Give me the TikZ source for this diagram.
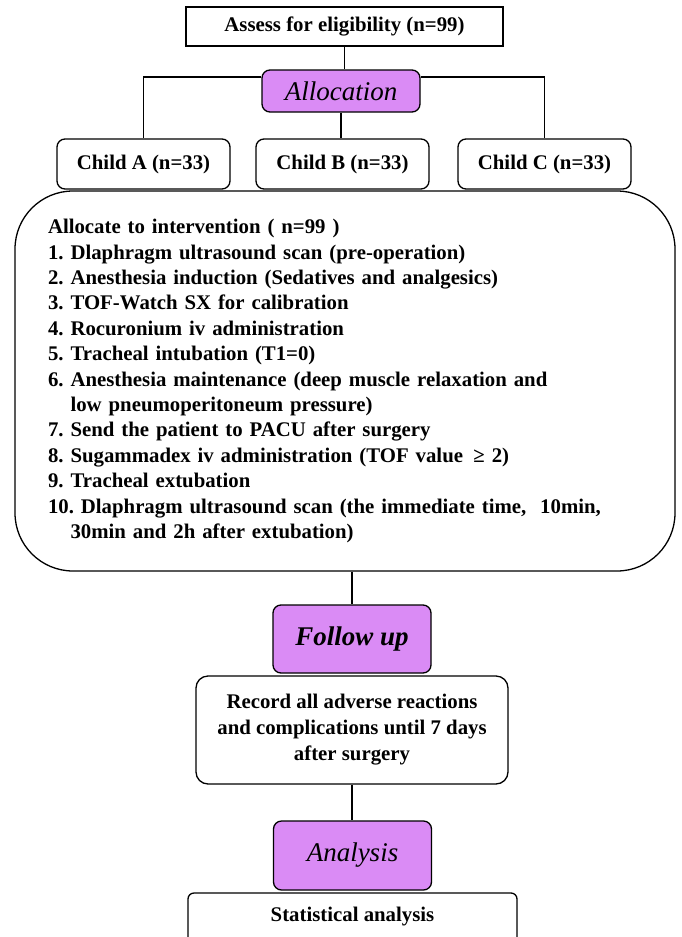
\documentclass[tikz,border=0pt]{standalone}
\usepackage{fontspec}
\setmainfont{Liberation Serif}
\usetikzlibrary{positioning}
\definecolor{phasepurple}{RGB}{218,139,245}
\tikzset{plainbox/.style={draw, line width=1.3pt, fill=white, align=center,
    font=\bfseries\fontsize{20.8}{26}\selectfont}}
\tikzset{groupbox/.style={plainbox, rounded corners=8pt,
    minimum width=173pt, minimum height=50pt}}
\tikzset{phasebox/.style={draw, line width=1.3pt, fill=phasepurple,
    rounded corners=8pt, minimum width=158pt, minimum height=42pt,
    font=\itshape\fontsize{27}{30}\selectfont}}
\tikzset{interbox/.style={plainbox, rounded corners=58pt, align=left,
    minimum width=660pt, minimum height=380pt, inner xsep=33pt,
    text width=594pt, font=\bfseries\fontsize{20.8}{25.4}\selectfont}}
\tikzset{link/.style={line width=1.8pt}}

\begin{document}
\frenchspacing
\begin{tikzpicture}[x=1pt,y=-1pt]
                \useasboundingbox (0,0) rectangle (682,937);

                % Enrolment
                \node[plainbox, minimum width=317pt, minimum height=39pt] (assess) at (344.5,26.5) {Assess for eligibility (n=99)};
                \node[phasebox] (alloc) at (341,91) {Allocation};

                % Groups
                \node[groupbox] (childA) at (143.5,164) {Child A (n=33)};
                \node[groupbox] (childB) at (342.5,164) {Child B (n=33)};
                \node[groupbox] (childC) at (544.5,164) {Child C (n=33)};

                % Intervention
                \node[interbox] (interv) at (345,381) {Allocate to intervention ( n=99 )\\
                1. Dlaphragm ultrasound scan (pre-operation)\\
                2. Anesthesia induction (Sedatives and analgesics)\\
                3. TOF-Watch SX for calibration\\
                4. Rocuronium iv administration\\
                5. Tracheal intubation (T1=0)\\
                6. Anesthesia maintenance (deep muscle relaxation and\\
                \hphantom{6. }low pneumoperitoneum pressure)\\
                7. Send the patient to PACU after surgery\\
                8. Sugammadex iv administration (TOF value~\,≥ 2)\\
                9. Tracheal extubation\\
                10. Dlaphragm ultrasound scan (the immediate time,~ 10min,\\
                \hphantom{6. }30min and 2h after extubation)};

                % Follow up
                \node[phasebox, minimum height=68pt, font=\bfseries\itshape\fontsize{27}{30}\selectfont] (follow) at (352,639) {Follow up};
                \node[plainbox, rounded corners=12pt, minimum width=312pt, minimum height=108pt] (record) at (352,730) {Record all adverse reactions\\ and complications until 7 days\\ after surgery};

                % Analysis
                \node[phasebox, minimum height=69pt] (analysis) at (352.5,855.5) {Analysis};
                \node[plainbox, rounded corners=6pt, minimum width=329pt, minimum height=50pt, text depth=7pt] (stats) at (352.5,918) {Statistical analysis};

                % Links
                \draw[link] (assess.south) -- (assess.south |- alloc.north);
                \draw[link] ([yshift=-8pt]alloc.north west) -| (childA.north);
                \draw[link] ([yshift=-8pt]alloc.north east) -| (childC.north);
                \draw[link] (alloc.south) -- (alloc.south |- childB.north);
                \draw[link] (follow.north |- interv.south) -- (follow.north);
                \draw[link] (record.south) -- (record.south |- analysis.north);
\end{tikzpicture}
\end{document}
